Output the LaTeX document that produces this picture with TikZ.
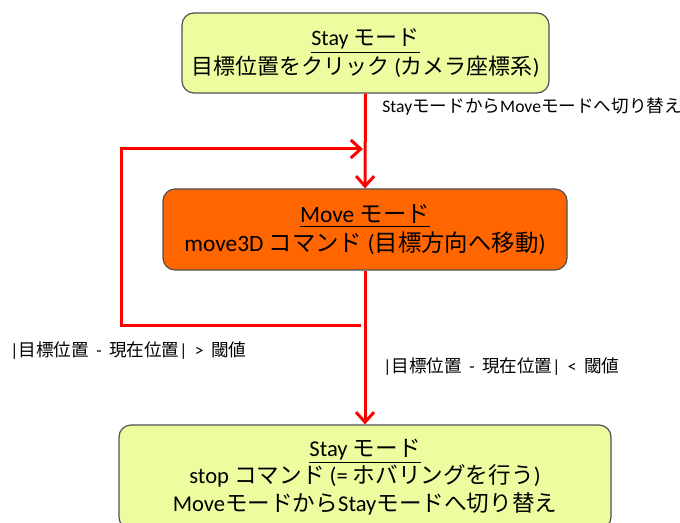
\documentclass[tikz,border=0pt]{standalone}
\usepackage{fontspec}
\setmainfont{Carlito}
\newfontfamily\jp{Noto Sans CJK JP}
\usetikzlibrary{arrows.meta}
\definecolor{boxyellow}{RGB}{238,252,160}
\definecolor{moveorange}{RGB}{255,102,0}
\definecolor{edgegray}{RGB}{80,80,80}
\definecolor{arrowred}{RGB}{255,0,0}
\newcommand{\gap}{\hspace{0.42em}}
\begin{document}
\begin{tikzpicture}[x=0.5pt,y=-0.5pt,
  statebox/.style={draw=edgegray, line width=0.6pt, rounded corners=6pt, align=center,
    inner sep=0pt},
  flow/.style={draw=arrowred, line width=1.5pt,
    -{Straight Barb[length=5pt,width=9pt,line width=1.5pt]}},
  lbl/.style={font=\fontsize{8.8}{10}\selectfont, anchor=west, inner sep=0pt}]
\useasboundingbox (0,0) rectangle (680,523);

\node[statebox, fill=boxyellow, minimum width=183.5pt, minimum height=40pt,
  font=\fontsize{11}{14.2}\selectfont] (stay1) at (365.5,53)
  {\underline{Stay {\jp モード}}\\{\jp 目標位置をクリック} ({\jp カメラ座標系})};

\node[statebox, fill=moveorange, minimum width=202pt, minimum height=40.5pt,
  font=\fontsize{11.7}{14.6}\selectfont] (move) at (365,229.5)
  {\underline{Move {\jp モード}}\\move3D {\jp コマンド} ({\jp 目標方向へ移動})};

\node[statebox, fill=boxyellow, minimum width=246pt, minimum height=52pt,
  font=\fontsize{11.3}{13.9}\selectfont] (stay2) at (365,477)
  {\underline{Stay {\jp モード}}\\stop {\jp コマンド} (= {\jp ホバリングを行う})\\Move{\jp モードから}Stay{\jp モードへ切り替え}};

\coordinate (loopstart) at (361,326);
\coordinate (loopbl) at (121,326);
\coordinate (looptl) at (121,149);
\coordinate (loopend) at (363,149);

\draw[flow] (stay1.south) -- (move.north);
\draw[flow] (move.south) -- (stay2.north);
\draw[flow] (loopstart) -- (loopbl) -- (looptl) -- (loopend);

\node[lbl] (l1) at (382,107) {Stay{\jp モードから}Move{\jp モードへ切り替え}};
\node[lbl] (l2) at (10,351) {|{\jp 目標位置}\gap-\gap{\jp 現在位置}|\gap>\gap{\jp 閾値}};
\node[lbl] (l3) at (383,367) {|{\jp 目標位置}\gap-\gap{\jp 現在位置}|\gap<\gap{\jp 閾値}};
\end{tikzpicture}
\end{document}
